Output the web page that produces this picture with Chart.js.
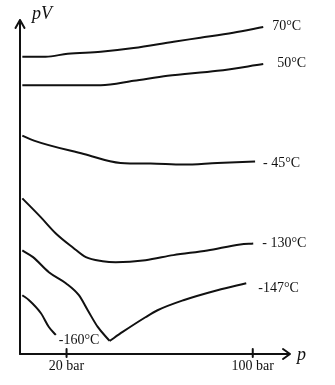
<!DOCTYPE html>
<html>
<head>
<meta charset="utf-8">
<script src="https://cdn.jsdelivr.net/npm/chart.js@4/dist/chart.umd.min.js"></script>
<style>
  html, body { margin: 0; padding: 0; background: #fff; }
  canvas { display: block; }
</style>
</head>
<body>
<canvas id="c" width="335" height="385"></canvas>
<script>
// Pressure (bar) and pV (arbitrary units)
const p70 = [1, 11, 20.5, 34.7, 48.8, 66, 77.5, 91.6, 104.5];
const pv70 = [8.90, 8.90, 8.99, 9.05, 9.16, 9.35, 9.47, 9.62, 9.79];

const p50 = [1, 17.6, 34.7, 48.8, 63.4, 84.8, 104.5];
const pv50 = [8.05, 8.05, 8.05, 8.18, 8.33, 8.48, 8.68];

const pM45 = [1, 6.0, 27.4, 43.2, 56.1, 70.2, 84.8, 101];
const pvM45 = [6.54, 6.39, 5.99, 5.72, 5.70, 5.67, 5.72, 5.76];

const pM130 = [1, 9.0, 15.4, 22.7, 28.3, 35.5, 41.1, 53.9, 65.9, 80.5, 94.6, 100.2];
const pvM130 = [4.66, 4.09, 3.61, 3.19, 2.90, 2.78, 2.75, 2.81, 2.96, 3.10, 3.28, 3.31];

// -147 °C: falling branch and rising branch meet at a sharp minimum
const pM147a = [1, 5.6, 12.4, 19.7, 25.3, 29.1, 33.4, 38.5];
const pvM147a = [3.10, 2.90, 2.45, 2.12, 1.76, 1.31, 0.81, 0.39];
const pM147b = [38.5, 44.1, 53.9, 59.1, 70.2, 84.8, 97.2];
const pvM147b = [0.39, 0.66, 1.10, 1.31, 1.61, 1.91, 2.12];

const pM160 = [1, 3.9, 9.0, 12.4, 15.4];
const pvM160 = [1.76, 1.61, 1.22, 0.81, 0.57];

const curveLabels = ["70°C", "50°C", "- 45°C", "- 130°C", "", "-147°C", "-160°C"];
const tickValues = [20, 100];
const tickLabels = ["20 bar", "100 bar"];
const xAxisTitle = "p";
const yAxisTitle = "pV";

const pts = (xs, ys) => xs.map((x, i) => ({ x: x, y: ys[i] }));

const series = [
  pts(p70, pv70), pts(p50, pv50), pts(pM45, pvM45), pts(pM130, pvM130),
  pts(pM147a, pvM147a), pts(pM147b, pvM147b), pts(pM160, pvM160)
];
// label offsets (px) from each curve's last point
const labelOffsets = [[9, -1], [14, -1], [8, 2], [9, 0], [0, 0], [12, 5], [3, 5]];

const FONT = '"Liberation Serif", "DejaVu Serif", serif';

const axesPlugin = {
  id: 'axesPlugin',
  afterDatasetsDraw(chart) {
    const ctx = chart.ctx;
    const xs = chart.scales.x, ys = chart.scales.y;
    const x0 = xs.getPixelForValue(0);
    const y0 = ys.getPixelForValue(0);
    const yTop = ys.getPixelForValue(ys.max);
    const xEnd = xs.getPixelForValue(xs.max);
    ctx.save();
    ctx.strokeStyle = '#111';
    ctx.fillStyle = '#111';
    ctx.lineWidth = 2;
    ctx.lineCap = 'round';
    ctx.lineJoin = 'round';
    // y axis with arrow
    ctx.beginPath();
    ctx.moveTo(x0, y0); ctx.lineTo(x0, yTop);
    ctx.moveTo(x0 - 4.5, yTop + 8); ctx.lineTo(x0, yTop); ctx.lineTo(x0 + 4.5, yTop + 8);
    ctx.stroke();
    // x axis with arrow
    ctx.beginPath();
    ctx.moveTo(x0, y0); ctx.lineTo(xEnd, y0);
    ctx.moveTo(xEnd - 7, y0 - 5); ctx.lineTo(xEnd, y0); ctx.lineTo(xEnd - 7, y0 + 5);
    ctx.stroke();
    // ticks and tick labels
    ctx.font = '14px ' + FONT;
    ctx.textAlign = 'center';
    ctx.textBaseline = 'middle';
    tickValues.forEach((v, i) => {
      const px = xs.getPixelForValue(v);
      ctx.beginPath();
      ctx.moveTo(px, y0 - 5); ctx.lineTo(px, y0 + 3);
      ctx.stroke();
      ctx.fillText(tickLabels[i], px, y0 + 12);
    });
    // axis titles
    ctx.font = 'italic 18px ' + FONT;
    ctx.textAlign = 'left';
    ctx.fillText(yAxisTitle, x0 + 12, yTop - 6);
    ctx.fillText(xAxisTitle, xEnd + 7, y0 + 1);
    // curve labels
    ctx.font = '14px ' + FONT;
    chart.data.datasets.forEach((ds, i) => {
      const txt = curveLabels[i];
      if (!txt) return;
      const last = ds.data[ds.data.length - 1];
      const px = xs.getPixelForValue(last.x) + labelOffsets[i][0];
      const py = ys.getPixelForValue(last.y) + labelOffsets[i][1];
      ctx.fillText(txt, px, py);
    });
    ctx.restore();
  }
};

new Chart(document.getElementById('c'), {
  type: 'line',
  data: {
    datasets: series.map((d, i) => ({
      label: curveLabels[i],
      data: d,
      borderColor: '#111',
      borderWidth: 2,
      pointRadius: 0,
      cubicInterpolationMode: 'monotone',
      fill: false
    }))
  },
  options: {
    responsive: false,
    animation: false,
    events: [],
    layout: { padding: { left: 20, right: 45, top: 20, bottom: 31 } },
    plugins: { legend: { display: false }, tooltip: { enabled: false } },
    scales: {
      x: { type: 'linear', min: 0, max: 116, display: false },
      y: { type: 'linear', min: 0, max: 10, display: false }
    }
  },
  plugins: [axesPlugin]
});
</script>
</body>
</html>
